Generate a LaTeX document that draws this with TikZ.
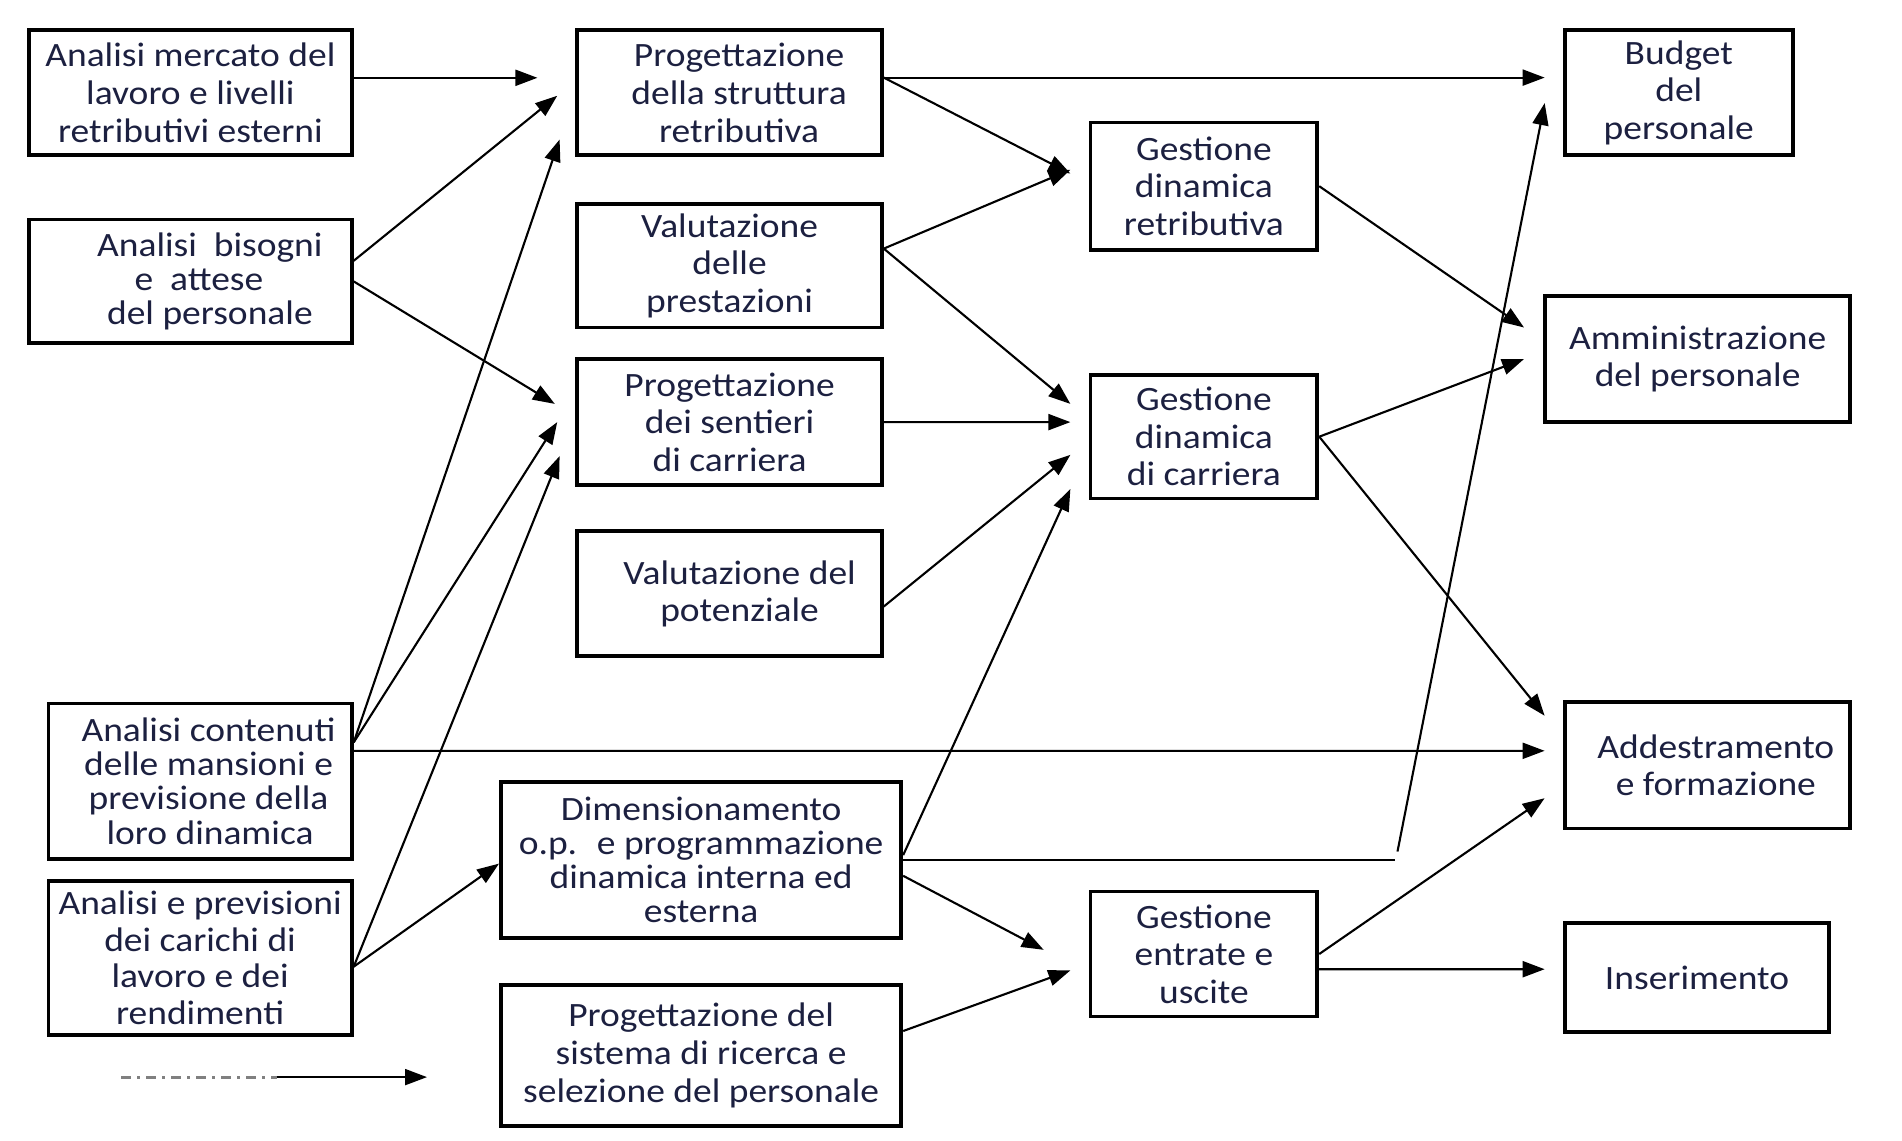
\documentclass[tikz,border=0pt]{standalone}
\usepackage{fontspec}
\setmainfont{Carlito}[FakeStretch=1.1]
\usetikzlibrary{arrows.meta}
\definecolor{navytext}{RGB}{28,32,64}
\begin{document}
\begin{tikzpicture}
 \tikzset{myarrow/.style=
     {draw, line width=0.6pt, -{Triangle[length=2.2mm,width=1.6mm]}}}
\tikzstyle{mybox} = [draw, line width=1.1pt, align=center, text=navytext, inner sep=2pt, font=\fontsize{9.7}{10.7}\selectfont]
\tikzstyle{tightbox} = [mybox, font=\fontsize{9.7}{9.7}\selectfont]
\tikzstyle{legline} = [draw, gray, line width=0.8pt, dash pattern=on 1mm off 0.6mm on 0.3mm off 0.6mm]
\useasboundingbox (0,0) rectangle (19.02,-11.40);

\node[mybox, minimum width=3.227cm, minimum height=1.249cm] (mercato) at (1.904,-0.928) {Analisi mercato del\\lavoro e livelli\\retributivi esterni};
\node[tightbox, minimum width=3.227cm, minimum height=1.237cm] (bisogni) at (1.904,-2.814) {\hspace*{0.39cm}Analisi~ bisogni\\\hspace*{0.17cm}e~ attese\\\hspace*{0.39cm}del personale};
\node[tightbox, minimum width=3.033cm, minimum height=1.553cm] (mansioni) at (2.001,-7.812) {\hspace*{0.17cm}Analisi contenuti\\\hspace*{0.17cm}delle mansioni e\\\hspace*{0.17cm}previsione della\\\hspace*{0.2cm}loro dinamica};
\node[mybox, minimum width=3.033cm, minimum height=1.541cm, font=\fontsize{9.7}{10.4}\selectfont] (carichi) at (2.001,-9.577) {Analisi e previsioni\\dei carichi di\\lavoro e dei\\rendimenti};

\node[mybox, minimum width=3.045cm, minimum height=1.249cm] (struttura) at (7.296,-0.928) {\hspace*{0.19cm}Progettazione\\\hspace*{0.19cm}della struttura\\\hspace*{0.19cm}retributiva};
\node[mybox, minimum width=3.045cm, minimum height=1.237cm] (prestazioni) at (7.296,-2.656) {Valutazione\\delle\\prestazioni};
\node[mybox, minimum width=3.045cm, minimum height=1.262cm] (sentieri) at (7.296,-4.221) {Progettazione\\dei sentieri\\di carriera};
\node[mybox, minimum width=3.045cm, minimum height=1.249cm] (potenziale) at (7.296,-5.938) {\hspace*{0.2cm}Valutazione del\\\hspace*{0.2cm}potenziale};
\node[tightbox, minimum width=4.003cm, minimum height=1.553cm] (dimens) at (7.011,-8.600) {Dimensionamento\\o.p.~ e programmazione\\dinamica interna ed\\esterna};
\node[mybox, minimum width=4.003cm, minimum height=1.407cm] (selezione) at (7.011,-10.553) {Progettazione del\\sistema di ricerca e\\selezione del personale};

\node[mybox, minimum width=2.268cm, minimum height=1.274cm] (gretrib) at (12.039,-1.862) {Gestione\\dinamica\\retributiva};
\node[mybox, minimum width=2.268cm, minimum height=1.237cm] (gcarriera) at (12.039,-4.367) {Gestione\\dinamica\\di carriera};
\node[mybox, minimum width=2.268cm, minimum height=1.249cm] (gentrate) at (12.039,-9.540) {Gestione\\entrate e\\uscite};

\node[mybox, minimum width=2.280cm, minimum height=1.249cm] (budget) at (16.788,-0.928) {Budget\\del\\personale};
\node[mybox, minimum width=3.045cm, minimum height=1.262cm] (ammin) at (16.976,-3.590) {Amministrazione\\del personale};
\node[mybox, minimum width=2.851cm, minimum height=1.262cm] (addestr) at (17.073,-7.654) {\hspace*{0.17cm}Addestramento\\\hspace*{0.17cm}e formazione};
\node[mybox, minimum width=2.644cm, minimum height=1.092cm] (inser) at (16.970,-9.777) {Inserimento};

\draw[myarrow] ([yshift=0.15cm]mercato.east) -- ([xshift=-0.38cm,yshift=0.15cm]struttura.west);
\draw[myarrow] ([yshift=0.206cm]bisogni.east) -- ([xshift=-0.182cm,yshift=-0.03cm]struttura.west);
\draw[myarrow] (bisogni.east) -- ([xshift=-0.206cm,yshift=0.182cm]sentieri.west);
\draw[myarrow] ([yshift=0.388cm]mansioni.east) -- ([xshift=-0.158cm,yshift=-0.467cm]struttura.west);
\draw[myarrow] ([yshift=0.388cm]mansioni.east) -- ([xshift=-0.182cm]sentieri.west);
\draw[myarrow] ([yshift=0.303cm]mansioni.east) -- ([xshift=-0.182cm,yshift=0.146cm]addestr.west);
\draw[myarrow] ([yshift=-0.09cm]carichi.east) -- ([xshift=-0.158cm,yshift=-0.34cm]sentieri.west);
\draw[myarrow] ([yshift=-0.09cm]carichi.east) -- ([yshift=-0.036cm]dimens.west);

\draw[myarrow] ([yshift=0.152cm]struttura.east) -- ([xshift=-0.182cm,yshift=0.152cm]budget.west);
\draw[myarrow] ([yshift=0.152cm]struttura.east) -- ([xshift=-0.182cm,yshift=0.127cm]gretrib.west);
\draw[myarrow] ([yshift=0.17cm]prestazioni.east) -- ([xshift=-0.182cm,yshift=0.164cm]gretrib.west);
\draw[myarrow] ([yshift=0.17cm]prestazioni.east) -- ([xshift=-0.182cm,yshift=0.328cm]gcarriera.west);
\draw[myarrow] (sentieri.east) -- ([xshift=-0.182cm,yshift=0.146cm]gcarriera.west);
\draw[myarrow] ([yshift=-0.127cm]potenziale.east) -- ([xshift=-0.182cm,yshift=-0.182cm]gcarriera.west);
\draw[myarrow] ([yshift=0.049cm]dimens.east) -- ([xshift=-0.182cm,yshift=-0.522cm]gcarriera.west);
\coordinate (hend) at (13.95,-8.600);
\coordinate (sbeg) at (13.975,-8.515);
\draw[line width=0.6pt] (dimens.east) -- (hend);
\draw[myarrow] (sbeg) -- ([xshift=-0.182cm,yshift=-0.103cm]budget.west);
\draw[myarrow] ([yshift=-0.158cm]dimens.east) -- ([xshift=-0.449cm,yshift=0.042cm]gentrate.west);
\draw[myarrow] ([yshift=0.243cm]selezione.east) -- ([xshift=-0.182cm,yshift=-0.164cm]gentrate.west);

\draw[myarrow] (gretrib.east) -- ([xshift=-0.194cm,yshift=0.315cm]ammin.west);
\draw[myarrow] (gcarriera.east) -- ([xshift=-0.194cm]ammin.west);
\draw[myarrow] (gcarriera.east) -- ([xshift=-0.182cm,yshift=0.497cm]addestr.west);
\draw[myarrow] (gentrate.east) -- ([xshift=-0.182cm,yshift=-0.328cm]addestr.west);
\draw[myarrow] ([yshift=-0.152cm]gentrate.east) -- ([xshift=-0.182cm,yshift=0.085cm]inser.west);

\coordinate (legA) at (1.213,-10.771);
\coordinate (legB) at (2.766,-10.771);
\coordinate (legC) at (4.270,-10.771);
\draw[legline] (legA) -- (legB);
\draw[myarrow] (legB) -- (legC);
\end{tikzpicture}
\end{document}
